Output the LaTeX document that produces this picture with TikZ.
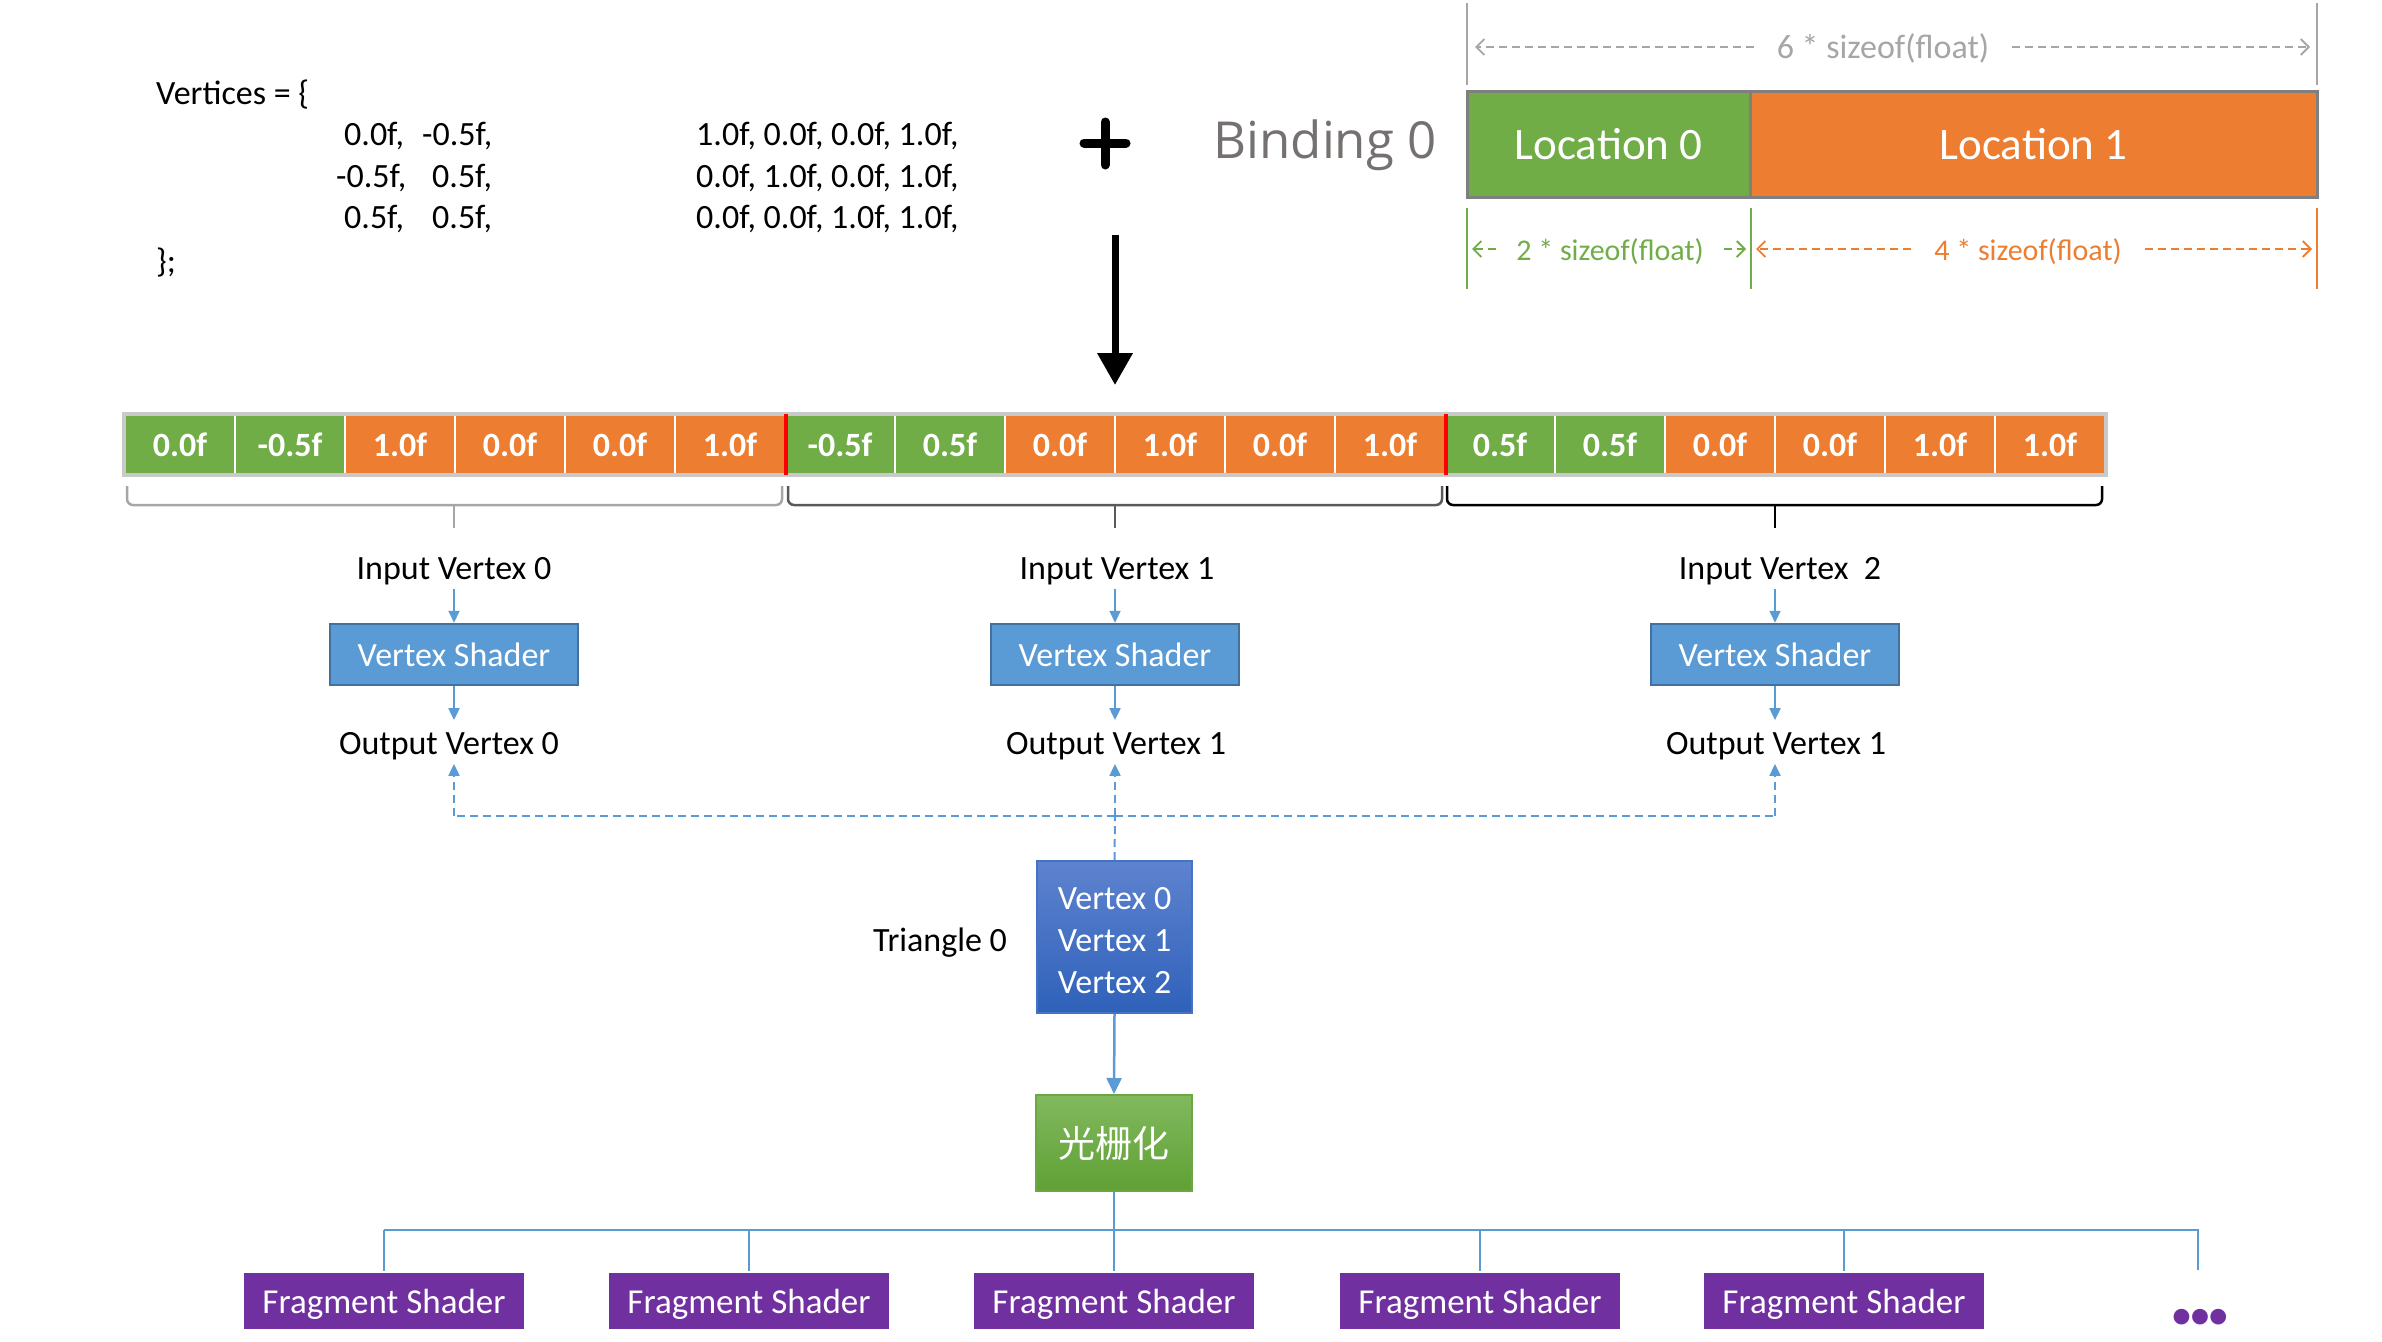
\documentclass[tikz,border=0pt]{standalone}
\usepackage{fontspec}
\setmainfont{Carlito}
\newfontfamily\cjk{Noto Sans CJK SC}
\newfontfamily\segoe{Open Sans}
\usetikzlibrary{arrows.meta}
\definecolor{cgreen}{HTML}{70AD47}
\definecolor{corange}{HTML}{ED7D31}
\definecolor{cblue}{HTML}{5B9BD5}
\definecolor{cbluedk}{HTML}{41719C}
\definecolor{cpurple}{HTML}{7030A0}
\definecolor{cgray}{HTML}{A6A6A6}
\definecolor{cbind}{HTML}{767171}
\definecolor{cborder}{HTML}{C9C9C9}
\definecolor{cframe}{HTML}{7F7F7F}
\definecolor{cbrace}{HTML}{595959}
\definecolor{tritop}{RGB}{94,131,207}
\definecolor{tribot}{RGB}{47,97,186}
\definecolor{triedge}{RGB}{68,114,196}
\definecolor{rastop}{RGB}{129,185,95}
\definecolor{rasbot}{RGB}{96,160,52}
\definecolor{rasedge}{RGB}{107,168,68}
\newcommand\fsz[2]{\fontsize{#1}{#2}\selectfont}
\begin{document}
\begin{tikzpicture}[x=1pt,y=-1pt,
  txt/.style={inner sep=3pt, text height=0.72em, text depth=0.22em, font=\fsz{34}{41}, yshift=-9pt},
  cell/.style={minimum width=110pt, minimum height=59pt, draw=white, line width=2pt,
    text=white, font=\fsz{34}{41}\bfseries, inner sep=0pt},
  locbox/.style={minimum height=106pt, draw=cframe, line width=3pt, text=white,
    font=\fsz{45}{54}, inner sep=0pt},
  vsbox/.style={minimum width=248pt, minimum height=61pt, fill=cblue, draw=cbluedk,
    line width=2.5pt, text=white, font=\fsz{34}{41}, inner sep=0pt},
  fsbox/.style={minimum width=280pt, minimum height=56pt, fill=cpurple, text=white,
    font=\fsz{35}{42}, inner sep=0pt, text depth=0pt},
  blarrow/.style={cblue, line width=2pt, -{Triangle[width=11pt,length=12pt]}},
  bldash/.style={cblue, line width=2pt, dash pattern=on 8pt off 5pt},
  tree/.style={cblue, line width=2.5pt},
  dimarr/.style={line width=1.8pt, dash pattern=on 8pt off 5pt, -{Straight Barb[length=8pt,width=16pt]}},
  dimline/.style={line width=1.8pt},
  bracestyle/.style={line width=2.5pt, rounded corners=6pt},
]
\useasboundingbox (0,0) rectangle (2382,1341);

% ---------- vertices text ----------
\node[txt,anchor=west] (vtitle) at (153,93) {Vertices = \{};
\node[txt,anchor=west] (r1a) at (341,134) {0.0f,};
\node[txt,anchor=west] (r1b) at (419,134) {-0.5f,};
\node[txt,anchor=west] (r1c) at (693,134) {1.0f, 0.0f, 0.0f, 1.0f,};
\node[txt,anchor=west] (r2a) at (333,176) {-0.5f,};
\node[txt,anchor=west] (r2b) at (429,176) {0.5f,};
\node[txt,anchor=west] (r2c) at (693,176) {0.0f, 1.0f, 0.0f, 1.0f,};
\node[txt,anchor=west] (r3a) at (341,217) {0.5f,};
\node[txt,anchor=west] (r3b) at (429,217) {0.5f,};
\node[txt,anchor=west] (r3c) at (693,217) {0.0f, 0.0f, 1.0f, 1.0f,};
\node[txt,anchor=west] (vend) at (153,261) {\};};

% ---------- plus and big arrow ----------
\draw[line width=9pt, line cap=round] (1084,143) -- (1126,143);
\draw[line width=9pt, line cap=round] (1105,122) -- (1105,165);
\coordinate (ar1) at (1115,235);
\coordinate (ar2) at (1115,385);
\draw[line width=7pt, -{Triangle[width=34pt,length=32pt]}] (ar1) -- (ar2);

% ---------- binding ----------
\node[anchor=base, text=cbind, font=\segoe\fsz{51}{60}, inner sep=0pt] (bind) at (1325,158) {Binding 0};

\node[locbox, fill=cgreen, minimum width=283pt] (loc0) at (1608.5,144) {Location 0};
\node[locbox, fill=corange, minimum width=567pt] (loc1) at (2033.5,144) {Location 1};

% top dimension
\coordinate (t1a) at (1467,3); \coordinate (t1b) at (1467,85);
\coordinate (t2a) at (2317,3); \coordinate (t2b) at (2317,85);
\draw[cgray, dimline] (t1a) -- (t1b);
\draw[cgray, dimline] (t2a) -- (t2b);
\node[txt, text=cgray, inner xsep=23pt] (sz6) at (1883,47) {6 * sizeof(float)};
\coordinate (g6L) at (1475,47); \coordinate (g6R) at (2310,47);
\draw[cgray, dimarr] ([yshift=9pt]sz6.west) -- (g6L);
\draw[cgray, dimarr] ([yshift=9pt]sz6.east) -- (g6R);

% bottom dimensions
\coordinate (b1a) at (1467,208); \coordinate (b1b) at (1467,289);
\coordinate (b2a) at (1751,208); \coordinate (b2b) at (1751,289);
\coordinate (b3a) at (2317,208); \coordinate (b3b) at (2317,289);
\draw[cgreen, dimline] (b1a) -- (b1b);
\draw[cgreen, dimline] (b2a) -- (b2b);
\draw[corange, dimline] (b3a) -- (b3b);
\node[txt, text=cgreen, font=\fsz{30}{36}, inner xsep=20pt] (sz2) at (1610,249) {2 * sizeof(float)};
\coordinate (g2L) at (1472,249); \coordinate (g2R) at (1746,249);
\draw[cgreen, dimarr] ([yshift=9pt]sz2.west) -- (g2L);
\draw[cgreen, dimarr] ([yshift=9pt]sz2.east) -- (g2R);
\node[txt, text=corange, font=\fsz{30}{36}, inner xsep=23pt] (sz4) at (2028,249) {4 * sizeof(float)};
\coordinate (g4L) at (1756,249); \coordinate (g4R) at (2312,249);
\draw[corange, dimarr] ([yshift=9pt]sz4.west) -- (g4L);
\draw[corange, dimarr] ([yshift=9pt]sz4.east) -- (g4R);

% ---------- buffer row ----------
\foreach \i/\v/\c in {0/0.0f/cgreen, 1/-0.5f/cgreen, 2/1.0f/corange, 3/0.0f/corange, 4/0.0f/corange, 5/1.0f/corange,
  6/-0.5f/cgreen, 7/0.5f/cgreen, 8/0.0f/corange, 9/1.0f/corange, 10/0.0f/corange, 11/1.0f/corange,
  12/0.5f/cgreen, 13/0.5f/cgreen, 14/0.0f/corange, 15/0.0f/corange, 16/1.0f/corange, 17/1.0f/corange}
  {\node[cell, fill=\c] (cell\i) at ({180+110*\i},444.5) {\v};}
\draw[cborder, line width=4pt] (cell0.north west) rectangle (cell17.south east);
\draw[red, line width=3.5pt] (cell5.north east) -- (cell5.south east);
\draw[red, line width=3.5pt] (cell11.north east) -- (cell11.south east);

% ---------- braces ----------
\draw[cgray, bracestyle] (127,486) -- (127,505) -- (782,505) -- (782,486);
\draw[cgray, line width=2.5pt] (454,505) -- (454,528) coordinate (br0);
\draw[cbrace, bracestyle] (788,486) -- (788,505) -- (1442,505) -- (1442,486);
\draw[cbrace, line width=2.5pt] (1115,505) -- (1115,528) coordinate (br1);
\draw[black, bracestyle] (1447,486) -- (1447,505) -- (2102,505) -- (2102,486);
\draw[black, line width=2.5pt] (1775,505) -- (1775,528) coordinate (br2);

% ---------- vertex shader columns ----------
\node[txt] (in0) at (454,568) {Input Vertex 0};
\node[txt] (in1) at (1117,568) {Input Vertex 1};
\node[txt] (in2) at (1780,568) {Input Vertex~~2};
\node[vsbox] (vs0) at (454,654.5) {Vertex Shader};
\node[vsbox] (vs1) at (1115,654.5) {Vertex Shader};
\node[vsbox] (vs2) at (1775,654.5) {Vertex Shader};
\node[txt] (out0) at (449,743) {Output Vertex 0};
\node[txt] (out1) at (1116,743) {Output Vertex 1};
\node[txt] (out2) at (1776,743) {Output Vertex 1};

\foreach \k in {0,1,2}{
  \draw[blarrow, shorten <=4pt] (vs\k.north |- in\k.south) -- (vs\k.north);
  \draw[blarrow, shorten >=24pt] (vs\k.south) -- (vs\k.south |- out\k.north);
}

% ---------- triangle ----------
\node[minimum width=155pt, minimum height=152pt, top color=tritop, bottom color=tribot,
  draw=triedge, line width=2pt, text=white, font=\fsz{34}{42}, align=center, inner sep=0pt]
  (tri) at (1114.5,937) {\parbox{150pt}{\centering\vspace*{7pt}Vertex 0\\Vertex 1\\Vertex 2}};
\node[txt] (trilab) at (940,940) {Triangle 0};

\coordinate (junc) at (1115,816);
\draw[bldash] (tri.north) -- (junc);
\draw[bldash] (junc) -- (junc -| vs0);
\draw[bldash] (junc) -- (junc -| vs2);
\draw[blarrow, dash pattern=on 8pt off 5pt, shorten >=4pt] (junc -| vs0) -- (vs0.south |- out0.south);
\draw[blarrow, dash pattern=on 8pt off 5pt, shorten >=4pt] (junc) -- (vs1.south |- out1.south);
\draw[blarrow, dash pattern=on 8pt off 5pt, shorten >=4pt] (junc -| vs2) -- (vs2.south |- out2.south);

% ---------- rasterization ----------
\node[minimum width=156pt, minimum height=96pt, top color=rastop, bottom color=rasbot,
  draw=rasedge, line width=2pt, text=white, font=\cjk\fsz{37}{44}, inner sep=0pt]
  (rast) at (1114,1143) {光栅化};
\draw[cblue, line width=2.5pt, -{Triangle[width=15pt,length=16pt]}] (tri.south) -- (rast.north);

% ---------- fragment shaders ----------
\node[fsbox] (f0) at (384,1301) {Fragment Shader};
\node[fsbox] (f1) at (749,1301) {Fragment Shader};
\node[fsbox] (f2) at (1114,1301) {Fragment Shader};
\node[fsbox] (f3) at (1480,1301) {Fragment Shader};
\node[fsbox] (f4) at (1844,1301) {Fragment Shader};
\node[text=cpurple, font=\fsz{37}{42}\bfseries, inner sep=0pt] (dots) at (2200,1318) {•••};

\coordinate (busL) at (384,1230);
\coordinate (busR) at (2198,1230);
\coordinate (dtop) at (2198,1270);
\draw[tree] (rast.south) -- (rast.south |- busL);
\draw[tree] (busL) -- (busR) -- (dtop);
\foreach \k in {0,...,4}{ \draw[tree] ([yshift=2pt]f\k.north) -- (f\k.north |- busL); }
\end{tikzpicture}
\end{document}
